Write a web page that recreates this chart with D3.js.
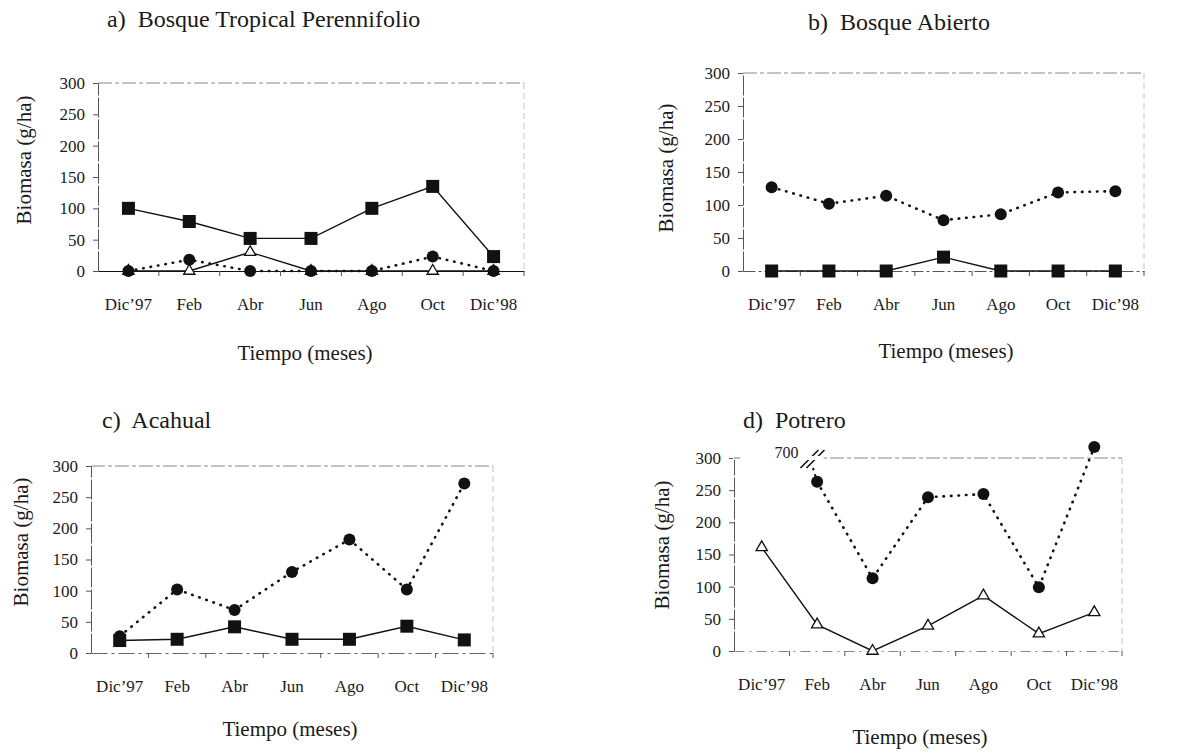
<!DOCTYPE html>
<html>
<head>
<meta charset="utf-8">
<script src="https://cdn.jsdelivr.net/npm/d3@7"></script>
<style>
  body { margin: 0; background: #fff; }
  svg { display: block; }
  text { font-family: "Liberation Serif", "DejaVu Serif", serif; fill: #1a1a1a; }
</style>
</head>
<body>
<svg id="chart" width="1183" height="754"></svg>
<script>

// meses de muestreo
let months = ["Dic’97", "Feb", "Abr", "Jun", "Ago", "Oct", "Dic’98"];
let yTicks = [0, 50, 100, 150, 200, 250, 300];

// a) Bosque Tropical Perennifolio
let aSquares   = [100, 79, 52, 52, 100, 135, 23];
let aCircles   = [0, 18, 0, 0, 0, 23, 0];
let aTriangles = [0, 0, 30, 0, 0, 0, 0];

// b) Bosque Abierto
let bCircles = [127, 102, 114, 77, 86, 119, 121];
let bSquares = [0, 0, 0, 21, 0, 0, 0];

// c) Acahual
let cCircles = [27, 102, 69, 130, 182, 102, 272];
let cSquares = [20, 22, 42, 22, 22, 43, 21];

// d) Potrero  (Dic'97 circle is off the scale: 700)
let dCircles   = [700, 263, 113, 239, 244, 99, 317];
let dTriangles = [161, 41, 0, 39, 86, 27, 60];

let svg = d3.select("#chart");

function drawPanel(p)
{
	let x = d3.scaleBand().domain(months).range([p.left, p.right]);
	let y = d3.scaleLinear().domain([0, 300]).range([p.bottom, p.top]);
	let cx = m => x(m) + x.bandwidth() / 2;

	let g = svg.append("g");

	// marco (top + right), faint like the scan
	g.append("line")
		.attr("x1", p.left).attr("x2", p.right)
		.attr("y1", y(300)).attr("y2", y(300))
		.attr("stroke", "#888").attr("stroke-width", 1)
		.attr("stroke-dasharray", "14,3,4,3");
	g.append("line")
		.attr("x1", p.right).attr("x2", p.right)
		.attr("y1", y(300)).attr("y2", y(0))
		.attr("stroke", "#c4c4c4").attr("stroke-width", 1)
		.attr("stroke-dasharray", "6,4");

	// eje y
	let yAxis = d3.axisLeft(y).tickValues(yTicks).tickSize(5).tickSizeOuter(0).tickPadding(8);
	let ya = g.append("g")
		.attr("transform", "translate(" + p.left + ",0)")
		.call(yAxis);
	ya.select(".domain").attr("stroke", "#555").attr("stroke-dasharray", "20,2");
	ya.selectAll(".tick line").attr("stroke", "#555");
	ya.selectAll(".tick text")
		.style("font-family", "'Liberation Serif', serif")
		.style("font-size", "17px")
		.attr("fill", "#1a1a1a");

	// eje x
	let xAxis = d3.axisBottom(x).tickSize(0).tickPadding(27);
	let xa = g.append("g")
		.attr("transform", "translate(0," + y(0) + ")")
		.call(xAxis);
	xa.select(".domain")
		.attr("stroke", p.xAxisColor)
		.attr("stroke-width", 1.2)
		.attr("stroke-dasharray", p.xAxisDash);
	xa.selectAll(".tick text")
		.style("font-family", "'Liberation Serif', serif")
		.style("font-size", "17px")
		.attr("fill", "#1a1a1a");

	// marcas entre meses
	g.selectAll(".xtick")
		.data(months.slice(1).concat(["end"]))
		.enter()
		.append("line")
		.attr("x1", d => d == "end" ? p.right : x(d))
		.attr("x2", d => d == "end" ? p.right : x(d))
		.attr("y1", y(0)).attr("y2", y(0) + 5)
		.attr("stroke", "#555");

	// series
	p.series.forEach(function(s)
	{
		let pts = s.values.map((v, i) => ({ m: months[i], v: v }))
			.filter((d, i) => !(s.offscale && s.offscale.indexOf(i) >= 0));

		let line = d3.line().x(d => cx(d.m)).y(d => y(d.v));

		g.append("path")
			.datum(pts)
			.attr("d", line)
			.attr("fill", "none")
			.attr("stroke", "#111")
			.attr("stroke-width", s.dotted ? 2.6 : 1.4)
			.attr("stroke-linecap", "round")
			.attr("stroke-dasharray", s.dotted ? "0.5,7" : null);

		// tramo hacia el punto fuera de escala, cortado en 300
		if (s.offscale)
		{
			s.offscale.forEach(function(i)
			{
				let j = i + 1;
				let v0 = s.values[i], v1 = s.values[j];
				let t = (300 - v1) / (v0 - v1);
				let xb = cx(months[j]) + t * (cx(months[i]) - cx(months[j]));
				let yb = y(300);

				g.append("line")
					.attr("x1", cx(months[j])).attr("y1", y(v1))
					.attr("x2", xb).attr("y2", yb + 8)
					.attr("stroke", "#111").attr("stroke-width", 2.2)
					.attr("stroke-linecap", "round")
					.attr("stroke-dasharray", "0.5,6");

				// doble barra //
				[-3, 3].forEach(function(o)
				{
					g.append("line")
						.attr("x1", xb - 9 + o).attr("y1", yb + 10)
						.attr("x2", xb + 9 + o).attr("y2", yb - 8)
						.attr("stroke", "#111").attr("stroke-width", 1.6);
				});
				g.append("rect")
					.attr("x", p.left - 1).attr("y", yb - 2)
					.attr("width", xb + 12 - p.left).attr("height", 4)
					.attr("fill", "#fff");
				g.append("line")
					.attr("x1", p.left).attr("x2", p.left + 6)
					.attr("y1", yb).attr("y2", yb)
					.attr("stroke", "#777");
				g.append("text")
					.attr("x", xb - 14).attr("y", yb)
					.attr("text-anchor", "end")
					.style("font-size", "16px")
					.text(v0);
			});
		}

		let mk = g.append("g");
		if (s.marker == "square")
		{
			mk.selectAll("rect").data(pts).enter().append("rect")
				.attr("x", d => cx(d.m) - 6.5).attr("y", d => y(d.v) - 6.5)
				.attr("width", 13).attr("height", 13)
				.attr("fill", "#111");
		}
		else if (s.marker == "circle")
		{
			mk.selectAll("circle").data(pts).enter().append("circle")
				.attr("cx", d => cx(d.m)).attr("cy", d => y(d.v))
				.attr("r", 6)
				.attr("fill", "#111");
		}
		else
		{
			mk.selectAll("path").data(pts).enter().append("path")
				.attr("d", d3.symbol(d3.symbolTriangle).size(55))
				.attr("transform", d => "translate(" + cx(d.m) + "," + y(d.v) + ")")
				.attr("fill", "#fff")
				.attr("stroke", "#111")
				.attr("stroke-width", 1.3);
		}
	});

	// titulos
	g.append("text")
		.attr("x", p.title[0]).attr("y", p.title[1])
		.style("font-size", "24px")
		.style("white-space", "pre")
		.text(p.name);

	g.append("text")
		.attr("transform", "translate(" + p.ylab[0] + "," + p.ylab[1] + ") rotate(-90)")
		.attr("text-anchor", "middle")
		.style("font-size", "21px")
		.text("Biomasa (g/ha)");

	g.append("text")
		.attr("x", p.xlab[0]).attr("y", p.xlab[1])
		.attr("text-anchor", "middle")
		.style("font-size", "21px")
		.text("Tiempo (meses)");
}

drawPanel({
	name: "a)  Bosque Tropical Perennifolio",
	left: 98, right: 524, top: 83, bottom: 271,
	title: [107, 27], ylab: [31, 160], xlab: [305, 360],
	xAxisColor: "#111", xAxisDash: null,
	series: [
		{ values: aTriangles, marker: "triangle" },
		{ values: aCircles, marker: "circle", dotted: true },
		{ values: aSquares, marker: "square" }
	]
});

drawPanel({
	name: "b)  Bosque Abierto",
	left: 743, right: 1144, top: 73, bottom: 271,
	title: [808, 30], ylab: [673, 168], xlab: [946, 358],
	xAxisColor: "#555", xAxisDash: "12,3,3,3",
	series: [
		{ values: bCircles, marker: "circle", dotted: true },
		{ values: bSquares, marker: "square" }
	]
});

drawPanel({
	name: "c)  Acahual",
	left: 91, right: 493, top: 466, bottom: 653,
	title: [102, 428], ylab: [28, 542], xlab: [290, 736],
	xAxisColor: "#666", xAxisDash: "16,4,3,4",
	series: [
		{ values: cCircles, marker: "circle", dotted: true },
		{ values: cSquares, marker: "square" }
	]
});

drawPanel({
	name: "d)  Potrero",
	left: 734, right: 1122, top: 458, bottom: 651,
	title: [743, 428], ylab: [669, 545], xlab: [920, 744],
	xAxisColor: "#888", xAxisDash: "10,5,2,5",
	series: [
		{ values: dCircles, marker: "circle", dotted: true, offscale: [0] },
		{ values: dTriangles, marker: "triangle" }
	]
});

</script>
</body>
</html>
